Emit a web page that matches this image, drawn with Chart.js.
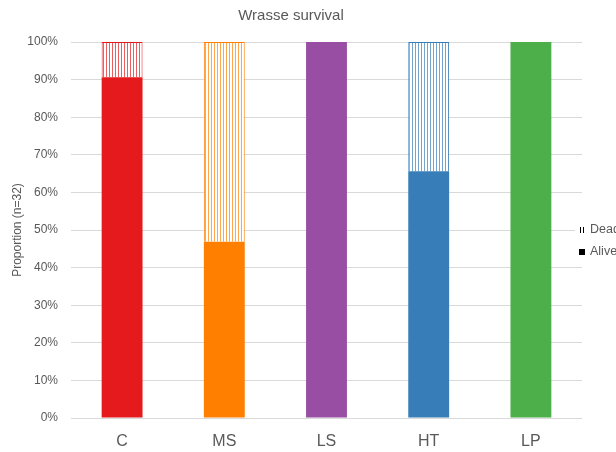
<!DOCTYPE html>
<html>
<head>
<meta charset="utf-8">
<title>Wrasse survival</title>
<script src="https://cdn.jsdelivr.net/npm/chart.js@4/dist/chart.umd.min.js"></script>
<style>
  html, body { margin: 0; padding: 0; background: #ffffff; }
  #wrap { width: 616px; height: 452px; }
</style>
</head>
<body>
<div id="wrap"><canvas id="chart" width="616" height="452"></canvas></div>
<script>
// Treatment groups
const categories = ['C', 'MS', 'LS', 'HT', 'LP'];
// Proportion of fish (%) in each group, n = 32 per group
const alive = [90.6, 46.9, 100, 65.6, 100];
const dead = [9.4, 53.1, 0, 34.4, 0];
// Group colours
const groupColors = ['#E41A1C', '#FF7F00', '#984EA3', '#377EB8', '#4DAF4A'];
// Y axis ticks
const yTicks = [0, 10, 20, 30, 40, 50, 60, 70, 80, 90, 100];

const FONT = "'Liberation Sans', Arial, sans-serif";
const TEXT = '#595959';

// Vertical hatch fill used for the "Dead" portion of each bar
function stripePattern(color) {
  const c = document.createElement('canvas');
  c.width = 3; c.height = 4;
  const g = c.getContext('2d');
  g.fillStyle = '#ffffff';
  g.fillRect(0, 0, 3, 4);
  g.fillStyle = color;
  g.globalAlpha = 0.7;
  g.fillRect(1, 0, 1, 4);
  return g.createPattern(c, 'repeat');
}

// Legend drawn at the right edge, overlapping the end of the gridlines
const sideLegend = {
  id: 'sideLegend',
  afterDraw(chart) {
    const ctx = chart.ctx;
    ctx.save();
    ctx.font = "12.5px " + FONT;
    ctx.textBaseline = 'middle';
    ctx.textAlign = 'left';
    ctx.fillStyle = '#ffffff';
    ctx.fillRect(575, 222, 41, 34);
    // Dead: hatch icon
    ctx.fillStyle = '#000000';
    ctx.fillRect(580, 227, 1, 6);
    ctx.fillRect(583, 227, 1, 6);
    ctx.fillStyle = TEXT;
    ctx.fillText(chart.data.datasets[1].label, 590, 230);
    // Alive: solid square
    ctx.fillStyle = '#000000';
    ctx.fillRect(579, 249, 6, 6);
    ctx.fillStyle = TEXT;
    ctx.fillText(chart.data.datasets[0].label, 590, 252);
    ctx.restore();
  }
};

new Chart(document.getElementById('chart'), {
  type: 'bar',
  data: {
    labels: categories,
    datasets: [
      {
        label: 'Alive',
        data: alive,
        backgroundColor: groupColors,
        borderColor: groupColors,
        borderWidth: 0,
        categoryPercentage: 1,
        barPercentage: 0.4
      },
      {
        label: 'Dead',
        data: dead,
        backgroundColor: groupColors.map(stripePattern),
        borderColor: groupColors,
        borderWidth: 1,
        categoryPercentage: 1,
        barPercentage: 0.4
      }
    ]
  },
  options: {
    responsive: false,
    animation: false,
    layout: { padding: { left: 0, right: 34, top: 0, bottom: 0 } },
    plugins: {
      legend: { display: false },
      tooltip: { enabled: false },
      title: {
        display: true,
        text: 'Wrasse survival',
        color: TEXT,
        font: { family: FONT, size: 15, weight: 'normal' },
        padding: { top: 7, bottom: 17 }
      }
    },
    scales: {
      x: {
        stacked: true,
        grid: { display: false, drawTicks: false },
        border: { display: false },
        ticks: {
          color: TEXT,
          font: { family: FONT, size: 16 },
          padding: 14
        },
        afterFit(scale) { scale.height = 34; }
      },
      y: {
        stacked: true,
        min: 0,
        max: 100,
        afterBuildTicks(scale) { scale.ticks = yTicks.map(v => ({ value: v })); },
        grid: { color: '#d9d9d9', lineWidth: 1, drawTicks: false },
        border: { display: false },
        ticks: {
          color: TEXT,
          font: { family: FONT, size: 12 },
          padding: 13,
          callback: v => v + '%'
        },
        title: {
          display: true,
          text: 'Proportion (n=32)',
          color: TEXT,
          font: { family: FONT, size: 12 },
          padding: { top: 10, bottom: 0 }
        },
        afterFit(scale) { scale.width = 71; }
      }
    }
  },
  plugins: [sideLegend]
});
</script>
</body>
</html>
